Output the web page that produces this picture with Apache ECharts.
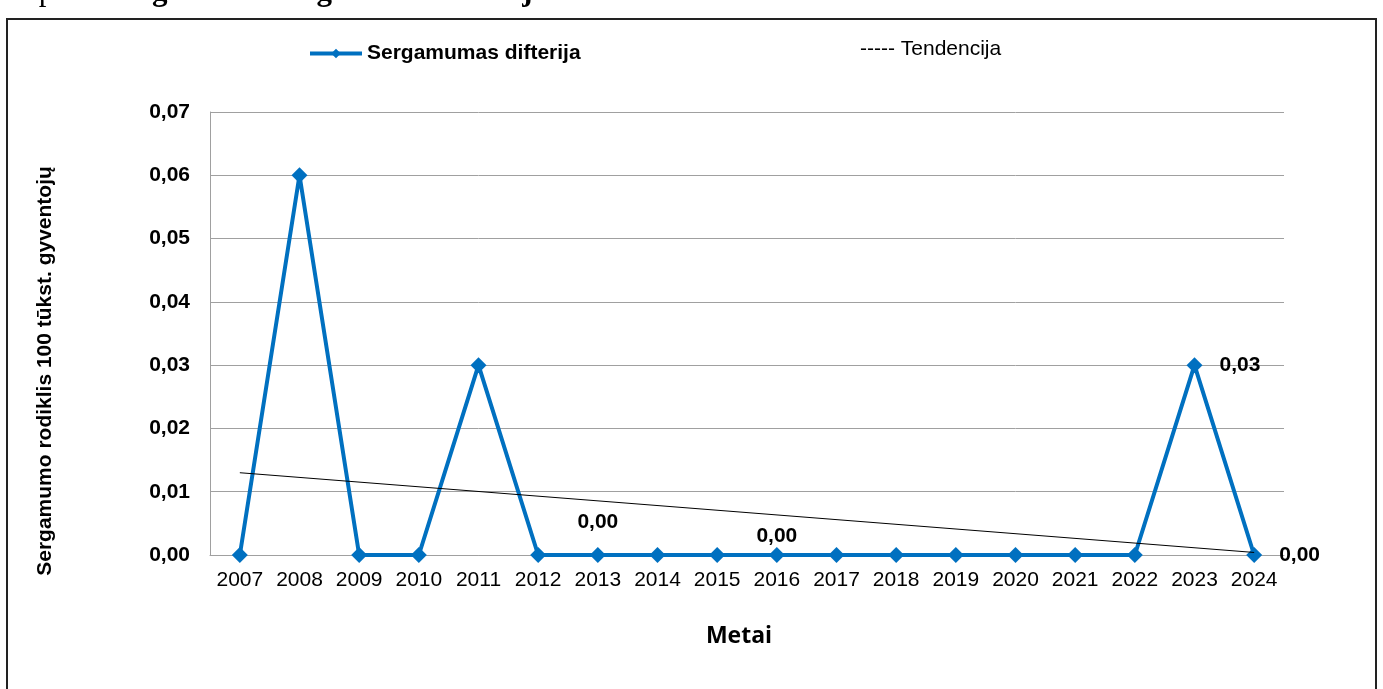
<!DOCTYPE html>
<html>
<head>
<meta charset="utf-8">
<script src="https://cdn.jsdelivr.net/npm/echarts@6/dist/echarts.min.js"></script>
<style>
  html, body { margin: 0; padding: 0; background: #fff; }
  #chart { width: 1383px; height: 689px; }
</style>
</head>
<body>
<div id="chart"></div>
<script>
// metai ir sergamumas
const years = ["2007", "2008", "2009", "2010", "2011", "2012", "2013", "2014", "2015",
  "2016", "2017", "2018", "2019", "2020", "2021", "2022", "2023", "2024"];
const incidence = [0, 0.06, 0, 0, 0.03, 0, 0, 0, 0, 0, 0, 0, 0, 0, 0, 0, 0.03, 0];
// tendencijos linijos galai (nuskaityta iš paveikslo)
const trendEnds = [0.013, 0.0004];
const yTicks = ["0,00", "0,01", "0,02", "0,03", "0,04", "0,05", "0,06", "0,07"];

// kurie taškai turi užrašus ir kur
const labelled = {
  "2013": { position: "top", distance: 14 },
  "2016": { position: "top", distance: 0 },
  "2023": { position: "right", distance: 17 },
  "2024": { position: "right", distance: 17 }
};

const chart = echarts.init(document.getElementById("chart"));

const lineData = incidence.map((v, i) => {
  const lab = labelled[years[i]];
  if (!lab) return v;
  return { value: v, label: Object.assign({ show: true }, lab) };
});

const option = {
  animation: false,
  backgroundColor: "#fff",
  textStyle: { fontFamily: "Liberation Sans, Arial, sans-serif" },
  grid: { left: 210, right: 99, top: 112, bottom: 134 },
  xAxis: {
    type: "category",
    data: years,
    boundaryGap: true,
    axisLine: { lineStyle: { color: "#a0a0a0", width: 1 } },
    axisTick: { show: false },
    axisLabel: { color: "#000", fontSize: 21, margin: 15, interval: 0 }
  },
  yAxis: {
    type: "value",
    min: 0,
    max: 0.07,
    interval: 0.01,
    axisLine: { show: true, lineStyle: { color: "#a0a0a0", width: 1 } },
    axisTick: { show: false },
    splitLine: { lineStyle: { color: "#a0a0a0", width: 1 } },
    axisLabel: {
      color: "#000", fontSize: 21, fontWeight: "bold", margin: 20,
      formatter: (v) => yTicks[Math.round(v * 100)]
    }
  },
  series: [
    {
      name: "Sergamumas difterija",
      type: "line",
      data: lineData,
      symbol: "diamond",
      symbolSize: 16,
      z: 3,
      lineStyle: { color: "#0070c0", width: 4 },
      itemStyle: { color: "#0070c0" },
      label: {
        color: "#000", fontSize: 21, fontWeight: "bold",
        formatter: (p) => p.value.toFixed(2).replace(".", ",")
      }
    },
    {
      name: "Tendencija",
      type: "line",
      data: [[years[0], trendEnds[0]], [years[years.length - 1], trendEnds[1]]],
      symbol: "none",
      z: 4,
      lineStyle: { color: "#000", width: 1 },
      silent: true
    }
  ],
  legend: {
    data: [{ name: "Sergamumas difterija" }],
    left: 303,
    top: 38,
    itemWidth: 52,
    itemHeight: 12,
    itemGap: 8,
    lineStyle: { width: 4, color: "#0070c0" },
    textStyle: { color: "#000", fontWeight: "bold", fontSize: 21 }
  },
  graphic: [
    {
      type: "rect",
      shape: { x: 7, y: 19, width: 1369, height: 690 },
      style: { fill: null, stroke: "#222", lineWidth: 2 },
      silent: true
    },
    {
      type: "text",
      left: 860,
      top: 39,
      style: { text: "----- Tendencija", fontSize: 21, fill: "#000", fontFamily: "Liberation Sans, Arial" }
    },
    {
      // y ašies pavadinimas
      type: "text",
      x: 45,
      y: 371,
      rotation: Math.PI / 2,
      style: {
        text: "Sergamumo rodiklis 100 tūkst. gyventojų",
        fontSize: 21, fontWeight: "bold", fill: "#000",
        fontFamily: "Liberation Sans, Arial",
        align: "center", verticalAlign: "middle"
      }
    },
    {
      // x ašies pavadinimas
      type: "text",
      x: 739,
      y: 636,
      style: {
        text: "Metai",
        fontSize: 23, fontWeight: "bold", fill: "#000",
        fontFamily: "Open Sans",
        align: "center", verticalAlign: "middle"
      }
    },
    {
      type: "text",
      x: 0,
      y: 7,
      style: {
        text: "{n|16 pav. }{b|Daugiamečio sergamumo difterija dinamika 2007- 2024 m.}",
        verticalAlign: "bottom",
        rich: {
          n: { fontFamily: "Liberation Serif", fontSize: 31, fill: "#000" },
          b: { fontFamily: "Liberation Serif", fontSize: 31, fontWeight: "bold", fill: "#000" }
        }
      }
    }
  ]
};

chart.setOption(option);
</script>
</body>
</html>
